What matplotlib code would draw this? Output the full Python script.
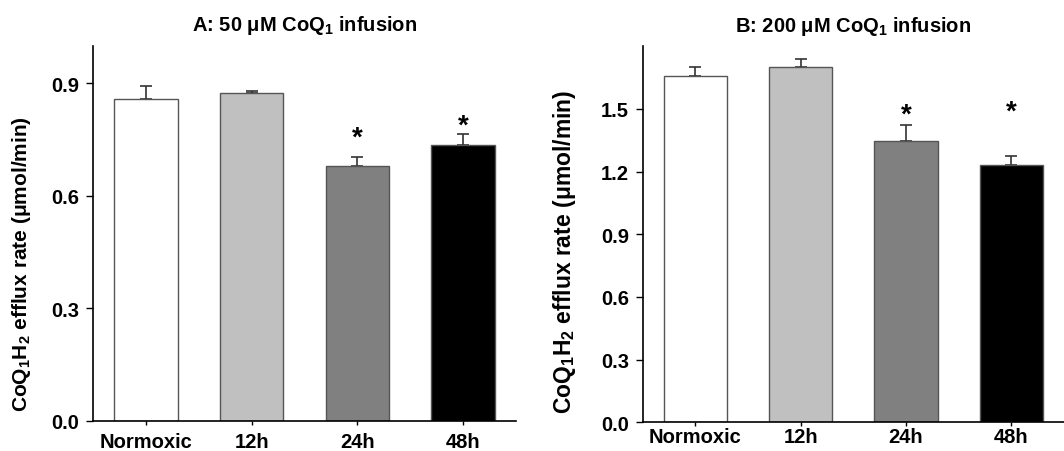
import matplotlib.pyplot as plt
import numpy as np

plt.rcParams['font.family'] = ['Liberation Sans', 'DejaVu Sans']
plt.rcParams['font.weight'] = 'bold'
plt.rcParams['mathtext.fontset'] = 'custom'
plt.rcParams['mathtext.rm'] = 'Liberation Sans:bold'
plt.rcParams['mathtext.it'] = 'Liberation Sans:bold'
plt.rcParams['mathtext.bf'] = 'Liberation Sans:bold'
plt.rcParams['mathtext.default'] = 'rm'

groups = ['Normoxic', '12h', '24h', '48h']
colors = ['white', '#c0c0c0', '#808080', 'black']

# panel A: 50 uM CoQ1
rate_a = [0.858, 0.873, 0.678, 0.734]
sem_a = [0.035, 0.006, 0.026, 0.030]
star_a = [None, None, 0.755, 0.788]

# panel B: 200 uM CoQ1
rate_b = [1.656, 1.699, 1.347, 1.231]
sem_b = [0.044, 0.040, 0.077, 0.043]
star_b = [None, None, 1.475, 1.485]

fig = plt.figure(figsize=(10.64, 4.52), dpi=100)
W, H = 1064, 452
axA = fig.add_axes([93 / W, 1 - 421.7 / H, (516 - 93) / W, 375 / H])
axB = fig.add_axes([642.7 / W, 1 - 423.3 / H, (1064 - 642.7) / W, 376 / H])

ylabel = 'CoQ$_1$H$_2$ efflux rate (\u03bcmol/min)'


def draw(ax, vals, errs, stars, ymax, yticks, title, lab_x, lab_y, lab_size, xpad):
    x = np.arange(len(groups))
    ax.bar(x, vals, width=0.6, color=colors, edgecolor='#555555', linewidth=1.0, zorder=2)
    ax.errorbar(x, vals, yerr=[np.zeros(len(vals)), errs], fmt='none',
                ecolor='#333333', elinewidth=1.2, capsize=4.3, capthick=1.2, zorder=1)
    for xi, s in zip(x, stars):
        if s is not None:
            ax.text(xi, s, '*', ha='center', va='center', fontsize=20, fontweight='bold')
    ax.set_xlim(-0.5, 3.5)
    ax.set_ylim(0, ymax)
    ax.set_yticks(yticks)
    ax.set_yticklabels(['%.1f' % t for t in yticks])
    ax.set_xticks(x)
    ax.set_xticklabels(groups)
    for s in ['top', 'right']:
        ax.spines[s].set_visible(False)
    for s in ['left', 'bottom']:
        ax.spines[s].set_linewidth(1.2)
    ax.tick_params(axis='y', direction='out', length=5, width=1, labelsize=14.5, pad=5)
    ax.tick_params(axis='x', direction='out', length=3, width=1, labelsize=14.5, pad=xpad)
    ax.set_title(title, fontsize=14.5, fontweight='bold', pad=11)
    ax.set_ylabel(ylabel, fontsize=lab_size, fontweight='bold')
    ax.yaxis.set_label_coords(lab_x, lab_y)


draw(axA, rate_a, sem_a, star_a, 1.0, [0.0, 0.3, 0.6, 0.9],
     'A: 50 \u03bcM CoQ$_1$ infusion', -0.142, 0.42, 15, 5)
draw(axB, rate_b, sem_b, star_b, 1.8, [0.0, 0.3, 0.6, 0.9, 1.2, 1.5],
     'B: 200 \u03bcM CoQ$_1$ infusion', -0.154, 0.457, 16.5, 0.5)

fig.savefig('out.png', dpi=100)
